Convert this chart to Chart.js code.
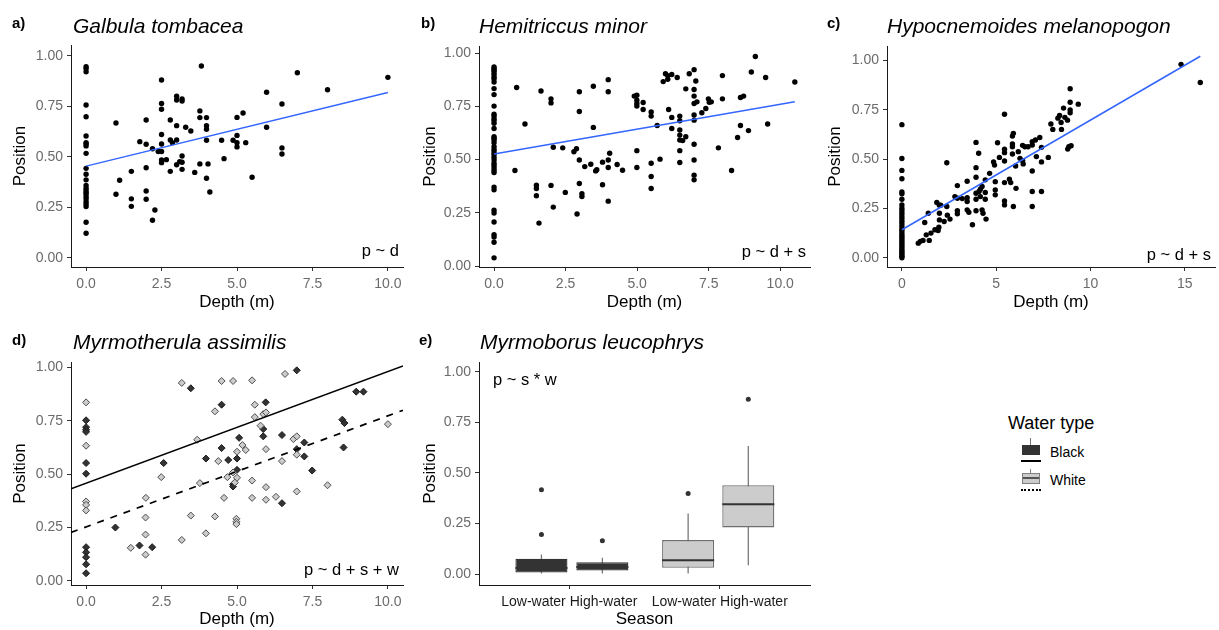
<!DOCTYPE html>
<html>
<head>
<meta charset="utf-8">
<script src="https://cdn.jsdelivr.net/npm/chart.js@4.4.1/dist/chart.umd.min.js"></script>
<style>
  body { margin: 0; background: #fff; }
  #page { position: relative; width: 1219px; height: 630px; overflow: hidden; font-family: 'Liberation Sans', Arial, sans-serif; color: #000; }
  #page canvas { position: absolute; }
  .tag { position: absolute; font-weight: bold; font-size: 15px; line-height: 15px; }
  .species { position: absolute; font-style: italic; font-size: 21px; line-height: 21px; white-space: nowrap; }
  .model { position: absolute; font-size: 16.5px; line-height: 16.5px; white-space: nowrap; }
  .leg-title { position: absolute; left: 1008px; top: 414px; font-size: 18px; line-height: 18px; }
  .leg-text { position: absolute; left: 1050px; font-size: 14px; line-height: 14px; }
  .key { position: absolute; }
</style>
</head>
<body>
<div id="page">
  <canvas id="chart-a" width="410" height="320" style="left:0;top:0"></canvas>
  <canvas id="chart-b" width="410" height="320" style="left:410px;top:0"></canvas>
  <canvas id="chart-c" width="404" height="320" style="left:815px;top:0"></canvas>
  <canvas id="chart-d" width="410" height="310" style="left:0;top:320px"></canvas>
  <canvas id="chart-e" width="410" height="310" style="left:410px;top:320px"></canvas>

  <div class="tag" style="left:12px;top:15px">a)</div>
  <div class="tag" style="left:421px;top:15px">b)</div>
  <div class="tag" style="left:827px;top:15px">c)</div>
  <div class="tag" style="left:12px;top:332px">d)</div>
  <div class="tag" style="left:419px;top:332px">e)</div>

  <div class="species" style="left:73px;top:15px">Galbula tombacea</div>
  <div class="species" style="left:479px;top:15px">Hemitriccus minor</div>
  <div class="species" style="left:887px;top:15px">Hypocnemoides melanopogon</div>
  <div class="species" style="left:73px;top:331px">Myrmotherula assimilis</div>
  <div class="species" style="left:480px;top:331px">Myrmoborus leucophrys</div>

  <div class="model" style="right:820px;top:242px">p ~ d</div>
  <div class="model" style="right:413px;top:243px">p ~ d + s</div>
  <div class="model" style="right:8px;top:246px">p ~ d + s</div>
  <div class="model" style="right:820px;top:561px">p ~ d + s + w</div>
  <div class="model" style="left:493px;top:371px">p ~ s * w</div>

  <!-- legend for water type -->
  <div class="leg-title">Water type</div>
  <div class="key" style="left:1030px;top:438px;width:1px;height:7px;background:#777"></div>
  <div class="key" style="left:1022px;top:445px;width:18px;height:10px;background:#333"></div>
  <div class="key" style="left:1021px;top:460px;width:20px;height:2px;background:#000"></div>
  <div class="leg-text" style="top:445px">Black</div>
  <div class="key" style="left:1030px;top:469px;width:1px;height:4px;background:#888"></div>
  <div class="key" style="left:1022px;top:473px;width:16px;height:9px;background:#ccc;border:1px solid #7f7f7f"></div>
  <div class="key" style="left:1023px;top:477px;width:16px;height:1.5px;background:#555"></div>
  <div class="key" style="left:1021px;top:489px;width:20px;height:0;border-top:2px dotted #000"></div>
  <div class="leg-text" style="top:473px">White</div>
</div>

<script>
Chart.defaults.font.family = "'Liberation Sans', Arial, sans-serif";

// Tick values shared by the panels
const positionTicks = [0, 0.25, 0.5, 0.75, 1];
const depthTicks = [0, 2.5, 5, 7.5, 10];
const depthTicksLong = [0, 5, 10, 15];

// a) Galbula tombacea : positions at depth 0, then [depth, position]
const galbulaZero = [0.946, 0.937, 0.921, 0.756, 0.698, 0.603, 0.570, 0.564, 0.554, 0.517, 0.443, 0.414, 0.386,
    0.358, 0.344, 0.333, 0.323, 0.316, 0.303, 0.292, 0.278, 0.267, 0.254, 0.176, 0.122];
const galbulaPts = [[0.99, .667], [0.99, .315], [1.11, .384], [1.5, .428], [1.5, .292], [1.5, .255], [1.78, .575],
    [1.99, .682], [1.99, .562], [1.99, .446], [1.99, .331], [1.99, .29], [2.28, .237], [2.2, .186], [2.2, .54],
    [2.39, .526], [2.5, .88], [2.5, .764], [2.5, .735], [2.5, .61], [2.5, .563], [2.5, .526], [2.5, .484], [2.5, .471],
    [2.66, .486], [2.79, .682], [2.79, .583], [2.79, .428], [2.86, .57], [3, .8], [3, .781], [3, .654], [3, .583],
    [3, .461], [3.1, .476], [3.18, .786], [3.18, .776], [3.18, .504], [3.18, .473], [3.18, .438], [3.3, .646],
    [3.47, .628], [3.6, .423], [3.77, .727], [3.77, .694], [3.77, .465], [3.82, .949], [3.99, .694], [3.99, .654],
    [3.99, .636], [3.99, .582], [3.99, .394], [4.04, .465], [4.1, .326], [4.49, .582], [4.57, .491], [4.87, .582],
    [5, .695], [5, .606], [5, .57], [5, .549], [5.2, .717], [5.29, .57], [5.5, .399], [5.98, .819], [5.98, .646],
    [6.49, .761], [6.49, .544], [6.49, .514], [7, .916], [8, .832], [10, .893]];
const galbulaFit = [[0, 0.454], [10, 0.818]];

// b) Hemitriccus minor
const hemiZero = [0.935, 0.927, 0.919, 0.911, 0.900, 0.888, 0.879, 0.864, 0.833, 0.805, 0.751, 0.713, 0.704, 0.692,
    0.682, 0.670, 0.646, 0.607, 0.600, 0.592, 0.579, 0.561, 0.548, 0.537, 0.525, 0.511, 0.498, 0.483, 0.472, 0.461,
    0.449, 0.439, 0.371, 0.358, 0.262, 0.249, 0.207, 0.148, 0.137, 0.112, 0.039];
const hemiPts = [[0.73, .449], [0.79, .838], [1.08, .667], [1.48, .38], [1.48, .364], [1.48, .33], [1.57, .202],
    [1.64, .822], [1.99, .785], [1.99, .766], [1.99, .379], [2.07, .558], [2.07, .277], [2.4, .555], [2.49, .346],
    [2.79, .537], [2.88, .551], [2.9, .245], [2.98, .818], [2.98, .726], [2.98, .498], [2.98, .388], [3.07, .34],
    [3.07, .327], [3.17, .467], [3.38, .478], [3.47, .844], [3.47, .651], [3.55, .447], [3.59, .452], [3.79, .488],
    [3.79, .382], [3.99, .875], [3.99, .818], [3.99, .498], [3.99, .463], [3.99, .305], [4.04, .53], [4.3, .477],
    [4.49, .45], [4.9, .798], [4.99, .802], [4.99, .779], [4.99, .763], [4.99, .751], [4.99, .542], [4.99, .463],
    [5.21, .768], [5.21, .735], [5.49, .723], [5.49, .704], [5.49, .483], [5.49, .421], [5.49, .364], [5.7, .66],
    [5.8, .502], [5.91, .866], [5.99, .903], [6.07, .877], [6.07, .894], [6.1, .735], [6.21, .899], [6.21, .698],
    [6.21, .646], [6.4, .885], [6.49, .704], [6.49, .682], [6.49, .639], [6.49, .615], [6.49, .592], [6.49, .542],
    [6.49, .486], [6.59, .589], [6.7, .832], [6.7, .607], [6.82, .903], [6.99, .922], [6.99, .829], [6.99, .798],
    [6.99, .763], [6.99, .709], [6.99, .685], [6.99, .572], [6.99, .498], [6.99, .427], [6.99, .405], [7.05, .869],
    [7.09, .771], [7.26, .72], [7.4, .74], [7.49, .785], [7.52, .769], [7.59, .771], [7.84, .555], [7.98, .894],
    [7.98, .785], [8.3, .449], [8.51, .604], [8.61, .791], [8.61, .66], [8.72, .798], [8.89, .636], [8.99, .911],
    [9.13, .984], [9.49, .885], [9.56, .667], [10.51, .864]];
const hemiFit = [[0, 0.526], [10.51, 0.771]];

// c) Hypocnemoides melanopogon
const hypoZero = [0.675, 0.503, 0.443, 0.401, 0.334, 0.324, 0.297, 0.268, 0.251, 0.239, 0.226, 0.212, 0.199, 0.185,
    0.172, 0.159, 0.145, 0.133, 0.121, 0.111, 0.101, 0.091, 0.081, 0.071, 0.061, 0.051, 0.040, 0.032, 0.024, 0.015,
    0.007, 0.0];
const hypoPts = [[0.87, .074], [0.98, .083], [1.12, .088], [1.21, .179], [1.29, .116], [1.45, .088], [1.4, .226],
    [1.54, .125], [1.75, .142], [1.85, .28], [1.92, .138], [1.96, .155], [1.99, .192], [1.99, .226], [1.99, .266],
    [2.06, .266], [2.24, .184], [2.38, .482], [2.38, .26], [2.41, .216], [2.55, .196], [2.81, .31], [2.94, .366],
    [2.94, .302], [2.94, .239], [2.94, .223], [3.2, .3], [3.46, .388], [3.46, .304], [3.46, .285], [3.46, .243],
    [3.55, .231], [3.74, .167], [3.93, .585], [3.93, .457], [3.93, .408], [3.93, .327], [3.93, .297], [3.93, .238],
    [4.07, .53], [4.09, .336], [4.16, .31], [4.16, .347], [4.25, .361], [4.25, .243], [4.3, .226], [4.42, .395],
    [4.42, .331], [4.42, .297], [4.46, .196], [4.65, .428], [4.86, .486], [4.91, .47], [4.95, .386], [4.95, .344],
    [4.95, .319], [5.07, .583], [5.17, .509], [5.44, .728], [5.44, .55], [5.44, .533], [5.44, .491], [5.44, .381],
    [5.44, .288], [5.44, .268], [5.7, .398], [5.77, .381], [5.86, .617], [5.86, .577], [5.86, .563], [5.86, .526],
    [5.91, .631], [5.91, .26], [6.03, .465], [6.05, .352], [6.17, .538], [6.26, .504], [6.4, .57], [6.4, .492],
    [6.43, .476], [6.52, .563], [6.69, .563], [6.91, .589], [6.91, .572], [6.91, .44], [6.91, .336], [6.91, .26],
    [7.08, .597], [7.13, .513], [7.31, .61], [7.4, .56], [7.4, .486], [7.4, .336], [7.76, .509], [7.9, .678],
    [8.0, .651], [8.27, .708], [8.36, .722], [8.44, .686], [8.46, .651], [8.57, .759], [8.64, .712], [8.78, .698],
    [8.79, .551], [8.85, .563], [8.92, .735], [8.92, .749], [8.92, .789], [8.92, .857], [8.97, .568], [9.35, .779],
    [14.8, .981], [15.82, .889]];
const hypoFit = [[0, 0.142], [15.82, 1.022]];

// d) Myrmotherula assimilis, split by water type
const assimBlack = [[0, .752], [0, .72], [0, .708], [0, .698], [0, .552], [0, .502], [0, .158], [0, .134], [0, .111],
    [0, .078], [0, .036], [0.97, .25], [1.77, .166], [2.19, .158], [2.57, .552], [3.47, .902], [3.97, .573],
    [4.49, .825], [4.49, .622], [4.71, .566], [4.87, .452], [4.87, .442], [5, .573], [5, .52], [5.07, .67],
    [5.87, .711], [5.87, .677], [5.95, .836], [6.49, .683], [6.49, .364], [6.98, .986], [6.98, .617], [7.23, .648],
    [7.23, .583], [7.49, .517], [8.49, .755], [8.56, .739], [8.53, .625], [8.95, .886], [9.19, .886]];
const assimWhite = [[0, .836], [0, .633], [0, .372], [0, .356], [0, .33], [1.48, .155], [1.98, .389], [1.97, .297],
    [1.97, .217], [1.97, .123], [2.49, .486], [3.17, .192], [3.17, .927], [3.47, .306], [3.68, .661], [3.77, .458],
    [3.97, .223], [4.27, .794], [4.27, .302], [4.38, .561], [4.49, .936], [4.57, .389], [4.68, .486], [4.87, .936],
    [4.87, .508], [4.93, .461], [5, .483], [5, .605], [4.98, .291], [4.98, .277], [4.98, .266], [5.18, .636],
    [5.29, .613], [5.5, .939], [5.5, .47], [5.5, .389], [5.59, .825], [5.59, .767], [5.78, .727], [5.87, .781],
    [5.96, .789], [5.96, .617], [5.96, .439], [5.96, .38], [6.29, .394], [6.49, .561], [6.59, .969], [6.87, .664],
    [6.98, .677], [6.98, .591], [6.98, .419], [8, .448], [10, .734]];
const assimFitSolid = [[-0.5, 0.431], [10.5, 1.007]];
const assimFitDashed = [[-0.5, 0.227], [10.5, 0.799]];

// e) Myrmoborus leucophrys : boxes Black/Low, Black/High, White/Low, White/High
const seasons = ['Low-water', 'High-water'];
const waterGroups = [1, 2];
const boxLow = [0.003, 0.003, 0.003, 0.044];
const boxQ1 = [0.008, 0.018, 0.031, 0.231];
const boxMedian = [0.03, 0.035, 0.068, 0.346];
const boxQ3 = [0.076, 0.059, 0.168, 0.440];
const boxHigh = [0.097, 0.081, 0.300, 0.633];
const boxOutliers = [[0.417, 0.196], [0.165], [0.399], [0.865]];

// dodge position of each box and box look
const boxCenters = [0.815, 1.22, 1.79, 2.19];
const boxHalf = 0.173;
const boxFill = ['#333333', '#333333', '#cccccc', '#cccccc'];
const boxLine = ['#333333', '#333333', '#6f6f6f', '#6f6f6f'];

const toXY = pts => pts.map(p => ({ x: p[0], y: p[1] }));
const atZero = vals => vals.map(v => [0, v]);

// one linear axis in the ggplot classic look
function axis(o) {
    return {
        type: 'linear',
        min: o.min,
        max: o.max,
        bounds: 'data',
        offset: false,
        afterBuildTicks: s => { s.ticks = o.ticks.map(v => ({ value: v })); },
        afterFit: s => {
            if (s.isHorizontal()) s.height = o.size;
            else s.width = o.size;
        },
        ticks: {
            color: o.tickColor || '#6b6b6b',
            font: { size: 14 },
            padding: o.pad,
            autoSkip: false,
            maxRotation: 0,
            callback: o.fmt
        },
        grid: { display: true, drawOnChartArea: false, drawTicks: true, tickLength: 4, tickColor: '#333', offset: false },
        border: { display: true, color: '#1a1a1a', width: 1 },
        title: { display: true, text: o.title, color: '#000', font: { size: 17 }, padding: o.titlePad }
    };
}

const fmt0 = v => v.toFixed(0);
const fmt1 = v => v.toFixed(1);
const fmt2 = v => v.toFixed(2);

function baseOptions(pad, xAxis, yAxis) {
    return {
        responsive: false,
        animation: false,
        devicePixelRatio: 1,
        layout: { padding: { left: 0, top: pad.top, right: pad.right, bottom: 0 } },
        plugins: { legend: { display: false }, tooltip: { enabled: false } },
        scales: { x: xAxis, y: yAxis }
    };
}

function dotSet(pts) {
    return { data: toXY(pts), pointRadius: 2.7, pointBackgroundColor: '#000', pointBorderWidth: 0, order: 1 };
}

function fitSet(pts, color, dash) {
    return {
        data: toXY(pts), showLine: true, pointRadius: 0, borderColor: color,
        borderWidth: dash ? 1.7 : 1.5, borderDash: dash || [], order: 0
    };
}

// 1. Panels a to c: depth scatter with linear fit
const topPanels = [
    { id: 'chart-a', zero: galbulaZero, pts: galbulaPts, fit: galbulaFit, x: [-0.5, 10.5], xt: depthTicks, xf: fmt1,
      y: [-0.045, 1.053], pad: { top: 45, right: 7 }, w: 71 },
    { id: 'chart-b', zero: hemiZero, pts: hemiPts, fit: hemiFit, x: [-0.526, 11.04], xt: depthTicks, xf: fmt1,
      y: [-0.004, 1.033], pad: { top: 46, right: 10 }, w: 69 },
    { id: 'chart-c', zero: hypoZero, pts: hypoPts, fit: hypoFit, x: [-0.79, 16.6], xt: depthTicksLong, xf: fmt0,
      y: [-0.047, 1.074], pad: { top: 46, right: 0 }, w: 72 }
];

topPanels.forEach(p => {
    new Chart(document.getElementById(p.id), {
        type: 'scatter',
        data: {
            datasets: [
                dotSet(atZero(p.zero).concat(p.pts)),
                fitSet(p.fit, '#3366FF')
            ]
        },
        options: baseOptions(p.pad,
            axis({ min: p.x[0], max: p.x[1], ticks: p.xt, fmt: p.xf, size: 53, pad: 5, title: 'Depth (m)', titlePad: { top: 0, bottom: 7 } }),
            axis({ min: p.y[0], max: p.y[1], ticks: positionTicks, fmt: fmt2, size: p.w, pad: 4, title: 'Position', titlePad: { top: 10, bottom: 0 } }))
    });
});

// 2. Panel d: two water types, diamonds, solid and dashed fits
new Chart(document.getElementById('chart-d'), {
    type: 'scatter',
    data: {
        datasets: [
            { data: toXY(assimBlack), pointStyle: 'rectRot', pointRadius: 3.5, pointBackgroundColor: '#333333',
              pointBorderColor: '#1a1a1a', pointBorderWidth: 1, order: 2 },
            { data: toXY(assimWhite), pointStyle: 'rectRot', pointRadius: 3.5, pointBackgroundColor: '#cccccc',
              pointBorderColor: '#4d4d4d', pointBorderWidth: 1, order: 1 },
            fitSet(assimFitSolid, '#000'),
            fitSet(assimFitDashed, '#000', [7, 7])
        ]
    },
    options: baseOptions({ top: 42, right: 7 },
        axis({ min: -0.5, max: 10.5, ticks: depthTicks, fmt: fmt1, size: 45, pad: 5, title: 'Depth (m)', titlePad: { top: 0, bottom: 0 } }),
        axis({ min: -0.019, max: 1.025, ticks: positionTicks, fmt: fmt2, size: 71, pad: 4, title: 'Position', titlePad: { top: 10, bottom: 0 } }))
});

// 3. Panel e: box plots built from bars, whisker and median segments
const whiskerPts = [];
const medianPts = [];
const outlierPts = [];
boxCenters.forEach((c, i) => {
    whiskerPts.push({ x: c, y: boxLow[i] }, { x: c, y: boxHigh[i] }, { x: c, y: null });
    medianPts.push({ x: c - boxHalf, y: boxMedian[i] }, { x: c + boxHalf, y: boxMedian[i] }, { x: c, y: null });
    boxOutliers[i].forEach(v => outlierPts.push({ x: c, y: v }));
});

new Chart(document.getElementById('chart-e'), {
    type: 'bar',
    data: {
        datasets: [
            { type: 'line', data: whiskerPts, borderColor: '#7a7a7a', borderWidth: 1.3, pointRadius: 0, spanGaps: false, order: 3 },
            { type: 'bar', data: boxCenters.map((c, i) => ({ x: c, y: [boxQ1[i], boxQ3[i]] })),
              backgroundColor: boxFill, borderColor: boxLine, borderWidth: 1.3, borderSkipped: false,
              categoryPercentage: 1, barPercentage: 0.865, order: 2 },
            { type: 'line', data: medianPts, borderColor: '#333333', borderWidth: 2, pointRadius: 0, spanGaps: false, order: 1 },
            { type: 'line', data: outlierPts, showLine: false, pointRadius: 2.5, pointBackgroundColor: '#333333', pointBorderWidth: 0, order: 0 }
        ]
    },
    options: baseOptions({ top: 42, right: 10 },
        axis({ min: 0.4, max: 2.6, ticks: waterGroups, fmt: () => seasons.join(' '), tickColor: '#1a1a1a', size: 45, pad: 5, title: 'Season', titlePad: { top: 0, bottom: 0 } }),
        axis({ min: -0.054, max: 1.049, ticks: positionTicks, fmt: fmt2, size: 69, pad: 4, title: 'Position', titlePad: { top: 10, bottom: 0 } }))
});
</script>
</body>
</html>
